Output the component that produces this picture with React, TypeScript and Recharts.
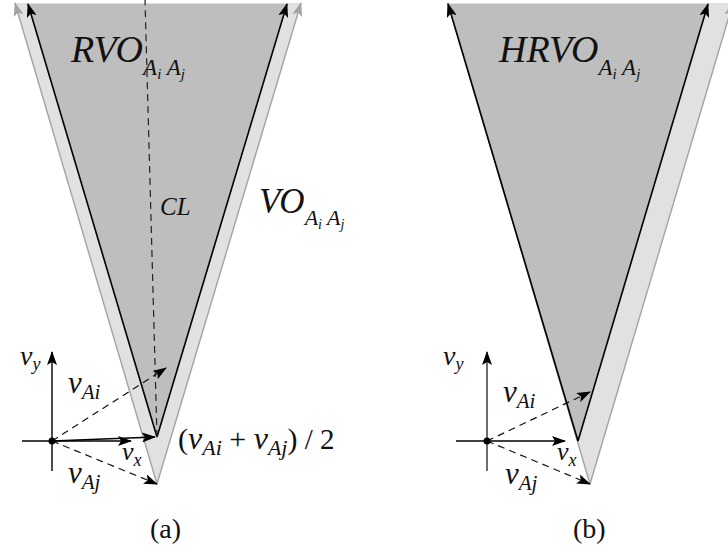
import React from "react";
import { ComposedChart, XAxis, YAxis, Area, Line, Scatter } from "recharts";

const W = 728;
const H = 557;

// wedges, y measured downward from the top of the figure
const voWedgeA = [
  { x: 15, bottom: 3, top: 3 },
  { x: 157, bottom: 484, top: 3 },
  { x: 301, bottom: 3, top: 3 },
];
const rvoWedgeA = [
  { x: 28, bottom: 4, top: 4 },
  { x: 157, bottom: 437, top: 4 },
  { x: 287, bottom: 4, top: 4 },
];
const voWedgeB = [
  { x: 448, bottom: 3, top: 3 },
  { x: 590, bottom: 484, top: 3 },
  { x: 733, bottom: 3, top: 3 },
];
const hrvoWedgeB = [
  { x: 448, bottom: 4, top: 4 },
  { x: 578, bottom: 441, top: 4 },
  { x: 708, bottom: 4, top: 4 },
];

// segments: start, end, style
const segments = [
  // panel (a)
  { x1: 157, y1: 484, x2: 15, y2: 3, kind: "gray" },
  { x1: 157, y1: 484, x2: 301, y2: 3, kind: "gray" },
  { x1: 157, y1: 437, x2: 28, y2: 4, kind: "edge" },
  { x1: 157, y1: 437, x2: 287, y2: 4, kind: "edge" },
  { x1: 157, y1: 437, x2: 145, y2: 0, kind: "dash" },
  { x1: 52, y1: 471, x2: 52, y2: 352, kind: "axis" },
  { x1: 22, y1: 441, x2: 131, y2: 441, kind: "axis" },
  { x1: 52, y1: 441, x2: 166, y2: 368, kind: "dashArrow" },
  { x1: 52, y1: 441, x2: 157, y2: 484, kind: "dashArrow" },
  { x1: 52, y1: 441, x2: 155, y2: 437, kind: "axis" },
  // panel (b)
  { x1: 590, y1: 484, x2: 448, y2: 3, kind: "gray" },
  { x1: 590, y1: 484, x2: 733, y2: 3, kind: "gray" },
  { x1: 578, y1: 441, x2: 448, y2: 4, kind: "edge" },
  { x1: 578, y1: 441, x2: 708, y2: 4, kind: "edge" },
  { x1: 487, y1: 471, x2: 487, y2: 352, kind: "grayAxis" },
  { x1: 456, y1: 441, x2: 565, y2: 441, kind: "axis" },
  { x1: 487, y1: 441, x2: 590, y2: 392, kind: "dashArrow" },
  { x1: 487, y1: 441, x2: 590, y2: 484, kind: "dashArrow" },
];

const origins = [
  { x: 52, y: 441 },
  { x: 487, y: 441 },
];

// text pieces: [text, size, shift below baseline, italic]
const labels = [
  { x: 71, y: 62, parts: [["RVO", 38, 0, 1], ["A", 23, 13, 1], ["i", 15, 17, 1], [" A", 23, 13, 1], ["j", 15, 17, 1]] },
  { x: 499, y: 62, parts: [["HRVO", 38, 0, 1], ["A", 23, 13, 1], ["i", 15, 17, 1], [" A", 23, 13, 1], ["j", 15, 17, 1]] },
  { x: 259, y: 213, parts: [["VO", 35, 0, 1], ["A", 22, 12, 1], ["i", 14, 16, 1], [" A", 22, 12, 1], ["j", 14, 16, 1]] },
  { x: 160, y: 215, parts: [["CL", 25, 0, 1]] },
  { x: 20, y: 365, parts: [["v", 28, 0, 1], ["y", 18, 5, 1]] },
  { x: 68, y: 393, parts: [["v", 31, 0, 1], ["Ai", 21, 6, 1]] },
  { x: 122, y: 460, parts: [["v", 26, 0, 1], ["x", 18, 6, 1]] },
  { x: 68, y: 483, parts: [["v", 31, 0, 1], ["Aj", 21, 6, 1]] },
  {
    x: 178,
    y: 449,
    parts: [["(", 30, 0, 0], ["v", 32, 0, 1], ["Ai", 22, 6, 1], [" + ", 30, 0, 0], ["v", 32, 0, 1], ["Aj", 22, 6, 1], [")", 30, 0, 0], [" / 2", 29, 0, 0]],
  },
  { x: 443, y: 365, parts: [["v", 28, 0, 1], ["y", 18, 5, 1]] },
  { x: 503, y: 402, parts: [["v", 31, 0, 1], ["Ai", 21, 6, 1]] },
  { x: 557, y: 460, parts: [["v", 26, 0, 1], ["x", 18, 6, 1]] },
  { x: 505, y: 484, parts: [["v", 31, 0, 1], ["Aj", 21, 6, 1]] },
  { x: 150, y: 538, parts: [["(a)", 28, 0, 0]] },
  { x: 573, y: 538, parts: [["(b)", 28, 0, 0]] },
];

const styles: Record<string, any> = {
  gray: { stroke: "#a3a3a3", strokeWidth: 1.4, markerEnd: "url(#headGray)" },
  edge: { stroke: "#000", strokeWidth: 1.6, markerEnd: "url(#headBlack)" },
  dash: { stroke: "#222", strokeWidth: 1.2, strokeDasharray: "7 5" },
  axis: { stroke: "#000", strokeWidth: 1.4, markerEnd: "url(#headBlack)" },
  grayAxis: { stroke: "#6e6e6e", strokeWidth: 2, markerEnd: "url(#headBlack)" },
  dashArrow: { stroke: "#111", strokeWidth: 1.2, strokeDasharray: "7 5", markerEnd: "url(#headBlack)" },
};

function TextShape(props: any) {
  const { cx, cy, payload } = props;
  let prev = 0;
  return (
    <text x={cx} y={cy} fill="#111" fontFamily="'Liberation Serif', 'DejaVu Serif', serif" style={{ whiteSpace: "pre" }}>
      {payload.parts.map((p: any[], i: number) => {
        const dy = p[2] - prev;
        prev = p[2];
        return (
          <tspan key={i} dy={dy} fontSize={p[1]} fontStyle={p[3] ? "italic" : "normal"}>
            {p[0]}
          </tspan>
        );
      })}
    </text>
  );
}

function Dot(props: any) {
  return <circle cx={props.cx} cy={props.cy} r={3.5} fill="#000" />;
}

const range = (d: any) => [d.bottom, d.top];

export default function App() {
  return (
    <div style={{ width: W, height: H, position: "relative" }}>
      <style>{`body{margin:0}`}</style>
      <svg width={0} height={0} style={{ position: "absolute" }}>
        <defs>
          <marker id="headBlack" viewBox="0 0 14 10" refX="13" refY="5" markerWidth="14" markerHeight="10" markerUnits="userSpaceOnUse" orient="auto">
            <path d="M0,0 L14,5 L0,10 L3,5 z" fill="#000" />
          </marker>
          <marker id="headGray" viewBox="0 0 14 10" refX="13" refY="5" markerWidth="14" markerHeight="10" markerUnits="userSpaceOnUse" orient="auto">
            <path d="M0,0 L14,5 L0,10 L3,5 z" fill="#a3a3a3" />
          </marker>
        </defs>
      </svg>
      <ComposedChart width={W} height={H} margin={{ top: 0, right: 0, bottom: 0, left: 0 }}>
        <XAxis type="number" dataKey="x" domain={[0, W]} allowDataOverflow hide />
        <YAxis type="number" dataKey="y" domain={[0, H]} allowDataOverflow reversed hide />
        {[voWedgeA, rvoWedgeA, voWedgeB, hrvoWedgeB].map((wedge, i) => (
          <Area
            key={i}
            data={wedge}
            dataKey={range}
            type="linear"
            fill={i % 2 === 0 ? "#e1e1e1" : "#bebebe"}
            fillOpacity={1}
            stroke="none"
            dot={false}
            activeDot={false}
            isAnimationActive={false}
          />
        ))}
        {segments.map((s, i) => (
          <Line
            key={i}
            data={[
              { x: s.x1, y: s.y1 },
              { x: s.x2, y: s.y2 },
            ]}
            dataKey="y"
            type="linear"
            dot={false}
            activeDot={false}
            isAnimationActive={false}
            {...styles[s.kind]}
          />
        ))}
        <Scatter data={origins} shape={<Dot />} isAnimationActive={false} />
        <Scatter data={labels} shape={<TextShape />} isAnimationActive={false} />
      </ComposedChart>
    </div>
  );
}
